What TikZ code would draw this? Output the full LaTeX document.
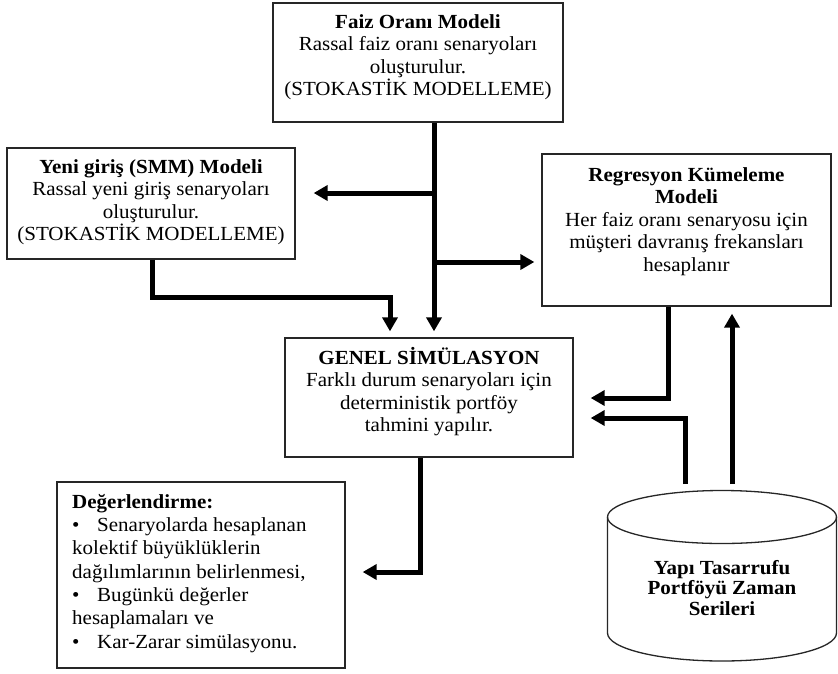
\documentclass[tikz,border=0pt]{standalone}
\usepackage{fontspec}
\setmainfont[FakeStretch=1.05]{Liberation Serif}
\usetikzlibrary{arrows.meta}
\newcommand{\firstline}{\rule{0pt}{16pt}}
\newcommand{\bul}{\makebox[25pt][l]{\textbullet}}
\begin{document}
\begin{tikzpicture}[x=1pt,y=-1pt,
  box/.style={draw=black!85, line width=1.3pt, inner sep=0pt},
  txt/.style={align=center, inner sep=0pt, anchor=north,
    font=\fontsize{20}{22.5}\selectfont},
  flow/.style={line width=5pt, line join=miter,
    -{Triangle[length=14pt,width=15pt]}},
  cyl/.style={draw=black!85, line width=1.3pt}
]
\useasboundingbox (0,0) rectangle (838,673);
\fill[white] (0,0) rectangle (838,673);

% model boxes
\node[box, minimum width=290pt, minimum height=119pt] (faiz)  at (418,62.5)  {};
\node[box, minimum width=288pt, minimum height=111pt] (yeni)  at (151,203.5) {};
\node[box, minimum width=289pt, minimum height=152pt] (regr)  at (686.5,230) {};
\node[box, minimum width=288pt, minimum height=119pt] (genel) at (429,397.5) {};
\node[box, minimum width=288pt, minimum height=186pt] (deger) at (201,575)   {};

% box texts
\node[txt] (faiz-t) at (418,12) {\firstline\textbf{Faiz Oranı Modeli}\\
  Rassal faiz oranı senaryoları\\ oluşturulur.\\ (STOKASTİK MODELLEME)};
\node[txt] (yeni-t) at (151,157) {\firstline\textbf{Yeni giriş (SMM) Modeli}\\
  Rassal yeni giriş senaryoları\\ oluşturulur.\\ (STOKASTİK MODELLEME)};
\node[txt] (regr-t) at (686.5,165) {\firstline\textbf{Regresyon Kümeleme}\\
  \textbf{Modeli}\\ Her faiz oranı senaryosu için\\
  müşteri davranış frekansları\\ hesaplanır};
\node[txt] (genel-t) at (429,347) {\firstline\textbf{GENEL SİMÜLASYON}\\
  Farklı durum senaryoları için\\ deterministik portföy\\ tahmini yapılır.};
\node[txt, align=left, anchor=north west, font=\fontsize{20}{23.3}\selectfont]
  (deger-t) at (72,492) {\firstline\textbf{Değerlendirme:}\\
  \bul Senaryolarda hesaplanan\\ kolektif büyüklüklerin\\
  dağılımlarının belirlenmesi,\\ \bul Bugünkü değerler\\
  hesaplamaları ve\\ \bul Kar-Zarar simülasyonu.};

% data store cylinder
\draw[cyl] (607.5,517) -- (607.5,633)
  arc[start angle=180, end angle=360, x radius=114.5pt, y radius=28pt]
  -- (836.5,517);
\draw[cyl] (722,517) ellipse [x radius=114.5pt, y radius=26.5pt];
\coordinate (cyl) at (722,484);
\node[txt, font=\fontsize{20}{20.5}\selectfont\bfseries] (cyl-t) at (722,558)
  {\firstline Yapı Tasarrufu\\ Portföyü Zaman\\ Serileri};

% connector tracks
\coordinate (xT)  at (434,0);
\coordinate (jL)  at (434,193);
\coordinate (jR)  at (434,262);
\coordinate (xY)  at (152,0);
\coordinate (yY)  at (0,297);
\coordinate (xY2) at (390,0);
\coordinate (xG)  at (420,0);
\coordinate (yG)  at (0,572);
\coordinate (xR)  at (668,0);
\coordinate (yR1) at (0,398);
\coordinate (xC1) at (685,0);
\coordinate (yR2) at (0,418);
\coordinate (xC2) at (732,0);

% connectors
\draw[flow, shorten >=6pt]  (faiz.south -| xT) -- (genel.north -| xT);
\draw[flow, shorten >=18pt] (jL) -- (yeni.east |- jL);
\draw[flow, shorten >=7pt]  (jR) -- (regr.west |- jR);
\draw[flow, shorten >=6pt]  (yeni.south -| xY) |- (xY2 |- yY) -- (genel.north -| xY2);
\draw[flow, shorten >=17pt] (genel.south -| xG) |- (deger.east |- yG);
\draw[flow, shorten >=17pt] (regr.south -| xR) |- (genel.east |- yR1);
\draw[flow, shorten >=17pt] (cyl -| xC1) |- (genel.east |- yR2);
\draw[flow, shorten >=7pt]  (cyl -| xC2) -- (regr.south -| xC2);
\end{tikzpicture}
\end{document}
